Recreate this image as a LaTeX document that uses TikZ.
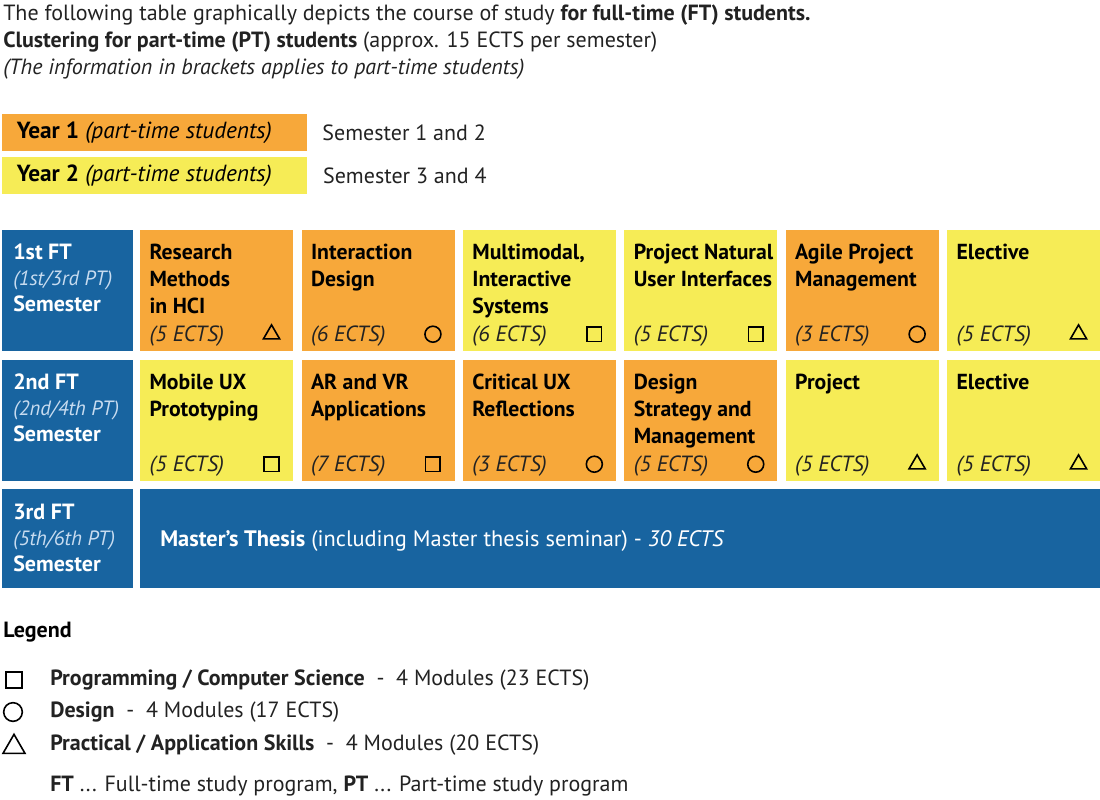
\documentclass[tikz,border=0pt]{standalone}
\usepackage{fontspec}
\setmainfont{PT Sans}
\usetikzlibrary{positioning,shapes.geometric}

\definecolor{fhblue}{RGB}{24,100,160}
\definecolor{fhorange}{RGB}{247,168,58}
\definecolor{fhyellow}{RGB}{246,236,86}
\definecolor{fhtext}{RGB}{34,34,34}
\definecolor{fhpale}{RGB}{200,220,240}

\tikzset{
  cellbox/.style={anchor=north west, inner sep=0pt, minimum width=114.75pt, minimum height=90.75pt},
  sembox/.style={anchor=north west, inner sep=0pt, fill=fhblue, minimum width=98.25pt, minimum height=90.75pt},
  modtitle/.style={anchor=north west, inner sep=0pt, align=left, text=black,
    font=\fontsize{16.3}{20.25}\selectfont\bfseries},
  modects/.style={anchor=west, inner sep=0pt, text=fhtext, font=\fontsize{16.5}{18}\selectfont\itshape},
  semtext/.style={anchor=north west, inner sep=0pt, align=left, text=white,
    font=\fontsize{16.5}{19.5}\selectfont},
  plain/.style={anchor=west, inner sep=0pt, text=fhtext, font=\fontsize{16.5}{19.9}\selectfont},
  yearbox/.style={anchor=north west, inner sep=0pt, minimum width=228.75pt, minimum height=27.5pt},
  symsq/.style={draw, line width=1.2pt, rectangle, inner sep=0pt, minimum size=11pt},
  symci/.style={draw, line width=1.2pt, circle, inner sep=0pt, minimum size=12pt},
  symtr/.style={draw, line width=1.2pt, regular polygon, regular polygon sides=3, inner sep=0pt, minimum size=14pt}
}

% name, x, y, colour, title, ects, symbol
\newcommand{\modcell}[7]{%
  \node[cellbox, fill=#4] (#1) at (#2,#3) {};
  \node[modtitle] (#1-t) at ([xshift=7pt,yshift=-10.5pt]#1.north west) {#5};
  \node[modects] (#1-e) at ([xshift=7pt,yshift=11.5pt]#1.south west) {(#6 ECTS)};
  \node[#7] (#1-s) at ([xshift=-16.5pt,yshift=13pt]#1.south east) {};
}

\begin{document}
\begin{tikzpicture}[x=0.75pt, y=-0.75pt]
  \useasboundingbox (0,0) rectangle (1100,800);

  %%% header
  \node[plain, anchor=north west, align=left] (head) at (3,5)
    {The following table graphically depicts the course of study \textbf{for full-time (FT) students.}\\
     \textbf{Clustering for part-time (PT) students} (approx. 15 ECTS per semester)\\
     \textit{(The information in brackets applies to part-time students)}};

  %%% years
  \node[yearbox, fill=fhorange] (year1) at (2,114) {};
  \node[plain, text=black, font=\fontsize{17.5}{20}\selectfont] (year1-t) at ([xshift=11pt]year1.west) {\textbf{Year 1} \textit{(part-time students)}};
  \node[plain] (year1-s) at ([xshift=11pt]year1.east) {Semester 1 and 2};
  \node[yearbox, fill=fhyellow] (year2) at (2,157) {};
  \node[plain, text=black, font=\fontsize{17.5}{20}\selectfont] (year2-t) at ([xshift=11pt]year2.west) {\textbf{Year 2} \textit{(part-time students)}};
  \node[plain] (year2-s) at ([xshift=11.5pt]year2.east) {Semester 3 and 4};

  %%% semesters
  \node[sembox] (sem1) at (2,230) {};
  \node[semtext] (sem1-t) at ([xshift=8.25pt,yshift=-10.5pt]sem1.north west)
    {\textbf{1st FT}\\{\color{fhpale}\itshape\fontsize{15.5}{19}\selectfont (1st/3rd PT)}\\\textbf{Semester}};
  \node[sembox] (sem2) at (2,360) {};
  \node[semtext] (sem2-t) at ([xshift=8.25pt,yshift=-10.5pt]sem2.north west)
    {\textbf{2nd FT}\\{\color{fhpale}\itshape\fontsize{15.5}{19}\selectfont (2nd/4th PT)}\\\textbf{Semester}};
  \node[sembox, minimum height=74.25pt] (sem3) at (2,489) {};
  \node[semtext] (sem3-t) at ([xshift=8.25pt,yshift=-11pt]sem3.north west)
    {\textbf{3rd FT}\\{\color{fhpale}\itshape\fontsize{15.5}{19}\selectfont (5th/6th PT)}\\\textbf{Semester}};

  %%% first semester
  \modcell{m11}{140}{230}{fhorange}{Research\\Methods\\in HCI}{5}{symtr}
  \modcell{m12}{301.4}{230}{fhorange}{Interaction\\Design}{6}{symci}
  \modcell{m13}{462.8}{230}{fhyellow}{Multimodal,\\Interactive\\Systems}{6}{symsq}
  \modcell{m14}{624.2}{230}{fhyellow}{Project Natural\\User Interfaces}{5}{symsq}
  \modcell{m15}{785.6}{230}{fhorange}{Agile Project\\Management}{3}{symci}
  \modcell{m16}{947}{230}{fhyellow}{Elective}{5}{symtr}

  %%% second semester
  \modcell{m21}{140}{360}{fhyellow}{Mobile UX\\Prototyping}{5}{symsq}
  \modcell{m22}{301.4}{360}{fhorange}{AR and VR\\Applications}{7}{symsq}
  \modcell{m23}{462.8}{360}{fhorange}{Critical UX\\Reflections}{3}{symci}
  \modcell{m24}{624.2}{360}{fhorange}{Design\\Strategy and\\Management}{5}{symci}
  \modcell{m25}{785.6}{360}{fhyellow}{Project}{5}{symtr}
  \modcell{m26}{947}{360}{fhyellow}{Elective}{5}{symtr}

  %%% third semester
  \node[cellbox, fill=fhblue, minimum width=720pt, minimum height=74.25pt] (thesis) at (140,489) {};
  \node[plain, text=white, font=\fontsize{16.8}{19}\selectfont] (thesis-t) at ([xshift=15pt,yshift=-2pt]thesis.west)
    {\textbf{Master's Thesis} (including Master thesis seminar) - \textit{30 ECTS}};

  %%% legend
  \node[plain, text=black] (leg) at (3,632) {\textbf{Legend}};
  \node[symsq, minimum size=12pt] (leg-sq) at (14,680) {};
  \node[plain] (leg-sq-t) at (50,680) {\textbf{Programming / Computer Science}\ \ -\ \ 4 Modules (23 ECTS)};
  \node[symci, minimum size=14pt] (leg-ci) at (13,712) {};
  \node[plain] (leg-ci-t) at (50,712) {\textbf{Design}\ \ -\ \ 4 Modules (17 ECTS)};
  \node[symtr, minimum size=19pt] (leg-tr) at (14,747) {};
  \node[plain] (leg-tr-t) at (50,745) {\textbf{Practical / Application Skills}\ \ -\ \ 4 Modules (20 ECTS)};
  \node[plain] (leg-ft) at (50,786) {\textbf{FT} ... Full-time study program, \textbf{PT} ... Part-time study program};
\end{tikzpicture}
\end{document}
